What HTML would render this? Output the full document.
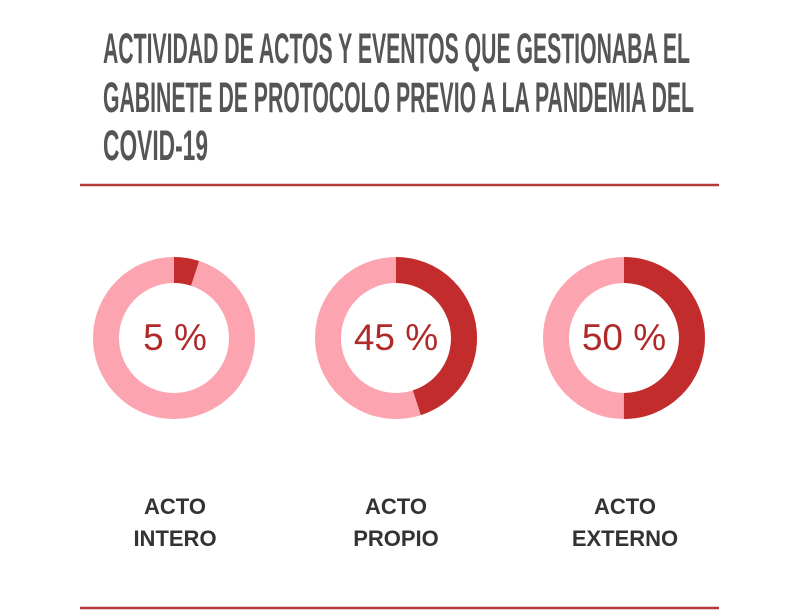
<!DOCTYPE html>
<html><head><meta charset="utf-8"><style>
html,body{margin:0;padding:0;background:#fff;width:788px;height:616px;overflow:hidden}
</style></head><body>
<svg width="788" height="616" viewBox="0 0 788 616" xmlns="http://www.w3.org/2000/svg">
<g font-family="Liberation Sans, sans-serif" font-weight="bold" fill="#555" font-size="43">
<text x="103" y="63" textLength="587" lengthAdjust="spacingAndGlyphs">ACTIVIDAD DE ACTOS Y EVENTOS QUE GESTIONABA EL</text>
<text x="103" y="112" textLength="591" lengthAdjust="spacingAndGlyphs">GABINETE DE PROTOCOLO PREVIO A LA PANDEMIA DEL</text>
<text x="103" y="160" textLength="105" lengthAdjust="spacingAndGlyphs">COVID-19</text>
</g>
<line x1="80" y1="185" x2="719" y2="185" stroke="#b23a3a" stroke-width="2.5"/>
<line x1="80" y1="608" x2="719" y2="608" stroke="#b23a3a" stroke-width="2.5"/>
<g fill="none" stroke-width="26">
<circle cx="174" cy="338" r="68" stroke="#fca5b0"/>
<circle cx="174" cy="338" r="68" stroke="#c22c2c" stroke-dasharray="21.4 1000" transform="rotate(-90 174 338)"/>
<circle cx="396" cy="338" r="68" stroke="#fca5b0"/>
<circle cx="396" cy="338" r="68" stroke="#c22c2c" stroke-dasharray="192.3 1000" transform="rotate(-90 396 338)"/>
<circle cx="624" cy="338" r="68" stroke="#fca5b0"/>
<circle cx="624" cy="338" r="68" stroke="#c22c2c" stroke-dasharray="213.6 1000" transform="rotate(-90 624 338)"/>
</g>
<g font-family="Liberation Sans, sans-serif" font-size="37" fill="#b02a2a" text-anchor="middle">
<text x="175" y="350">5 %</text>
<text x="396" y="350">45 %</text>
<text x="624" y="350">50 %</text>
</g>
<g font-family="Liberation Sans, sans-serif" font-weight="bold" font-size="22" fill="#333" text-anchor="middle">
<text x="175" y="514">ACTO</text><text x="175" y="546">INTERO</text>
<text x="396" y="514">ACTO</text><text x="396" y="546">PROPIO</text>
<text x="625" y="514">ACTO</text><text x="625" y="546">EXTERNO</text>
</g>
</svg>
</body></html>
